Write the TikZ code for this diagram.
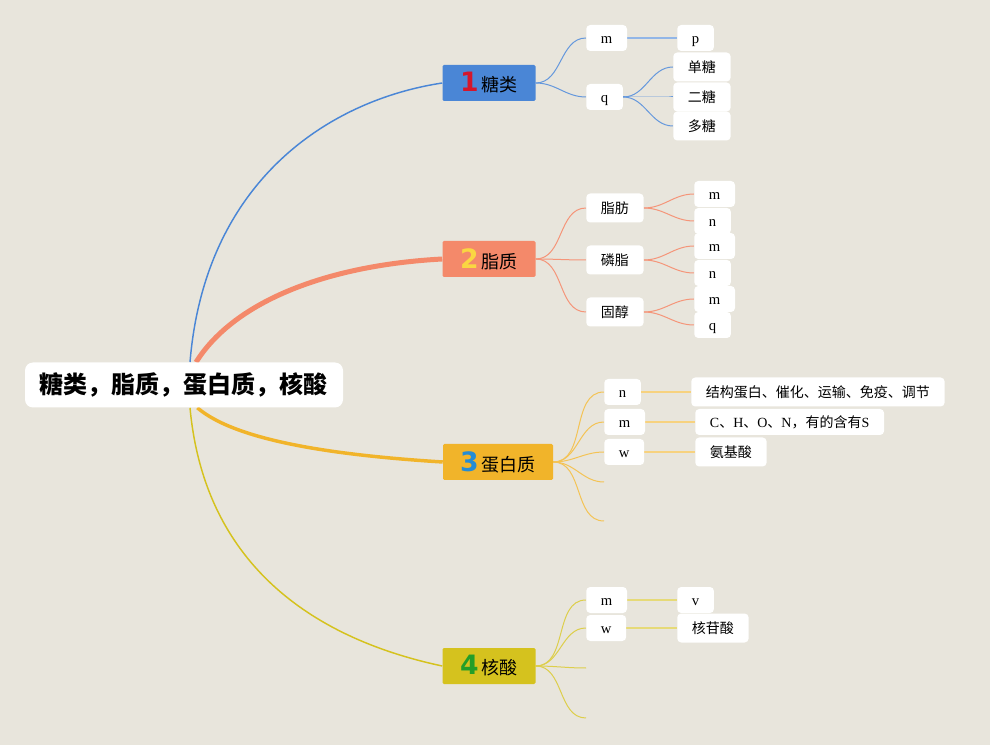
\documentclass[tikz,border=0pt]{standalone}
\usepackage{fontspec}
\setmainfont{Liberation Serif}
\newfontfamily\cjk{Noto Sans CJK SC}
\newfontfamily\numfont{DejaVu Sans}
\usetikzlibrary{positioning, backgrounds}
\definecolor{bgpaper}{RGB}{232,229,220}
\definecolor{tangblue}{RGB}{74,134,214}
\definecolor{zhiorange}{RGB}{244,137,106}
\definecolor{danyellow}{RGB}{241,180,42}
\definecolor{heolive}{RGB}{213,194,30}
\definecolor{numred}{RGB}{212,22,44}
\definecolor{numyellow}{RGB}{250,214,66}
\definecolor{numblue}{RGB}{36,140,212}
\definecolor{numgreen}{RGB}{36,158,40}
\newcommand{\topicnum}[2]{{\numfont\bfseries\fontsize{20}{20}\selectfont\textcolor{#1}{#2}}\,}
\tikzset{
  rootbox/.style={fill=white, rounded corners=6pt, inner sep=0pt,
    minimum width=238.5pt, minimum height=33.75pt,
    font=\cjk\bfseries\fontsize{18}{20}\selectfont},
  topic/.style={rounded corners=1pt, inner sep=0pt,
    minimum width=69.75pt, minimum height=27pt,
    font=\cjk\fontsize{13.5}{15}\selectfont},
  leaf/.style={fill=white, rounded corners=3pt, anchor=west,
    inner xsep=11pt, inner ysep=0pt, minimum height=19.5pt,
    text height=9pt, text depth=1pt,
    font=\fontsize{11}{12}\selectfont},
  leafzh/.style={leaf, minimum height=21.75pt,
    text height=8.8pt, text depth=1.2pt,
    font=\cjk\fontsize{10.5}{12}\selectfont},
  branch/.style={line width=0.75pt},
  link/.style={line width=1.2pt},
}
\begin{document}
\begin{tikzpicture}[x=0.75pt, y=-0.75pt]
\useasboundingbox (0,0) rectangle (990,745);

% 中心主题
\node[rootbox] (root) at (184,385) {糖类，脂质，蛋白质，核酸};

% 一级分支
\node[topic, fill=tangblue] (tang) at (489,83) {\topicnum{numred}{1}糖类};
\node[topic, fill=zhiorange] (zhi) at (489,259) {\topicnum{numyellow}{2}脂质};
\node[topic, fill=danyellow, minimum width=82.5pt] (dbz) at (498,462) {\topicnum{numblue}{3}蛋白质};
\node[topic, fill=heolive] (hes) at (489,666) {\topicnum{numgreen}{4}核酸};

% 糖类
\node[leaf] (tm) at (586,38) {m};
\node[leaf] (tq) at (586,97) {q};
\node[leaf] (tp) at (677,38) {p};
\node[leafzh] (dant) at (673,67) {单糖};
\node[leafzh] (ert) at (673,97) {二糖};
\node[leafzh] (duot) at (673,126) {多糖};

% 脂质
\node[leafzh] (zf) at (586,208) {脂肪};
\node[leafzh] (lz) at (586,260) {磷脂};
\node[leafzh] (gc) at (586,312) {固醇};
\node[leaf] (zfm) at (694,194) {m};
\node[leaf] (zfn) at (694,221) {n};
\node[leaf] (lzm) at (694,246) {m};
\node[leaf] (lzn) at (694,273) {n};
\node[leaf] (gcm) at (694,299) {m};
\node[leaf] (gcq) at (694,325) {q};

% 蛋白质
\node[leaf] (dn) at (604,392) {n};
\node[leaf] (dm) at (604,422) {m};
\node[leaf] (dw) at (604,452) {w};
\coordinate (d4) at (604,482);
\coordinate (d5) at (604,521);
\node[leafzh] (gn) at (691,392) {结构蛋白、催化、运输、免疫、调节};
\node[leaf, font=\fontsize{10.5}{12}\selectfont] (ys) at (695,422)
  {C{\cjk 、}H{\cjk 、}O{\cjk 、}N{\cjk ，有的含有}S};
\node[leafzh] (ajs) at (695,452) {氨基酸};

% 核酸
\node[leaf] (hm) at (586,600) {m};
\node[leaf] (hw) at (586,628) {w};
\coordinate (h3) at (586,668);
\coordinate (h4) at (586,718);
\node[leaf] (hv) at (677,600) {v};
\node[leafzh] (hg) at (677,628) {核苷酸};

\begin{scope}[on background layer]
  % 背景
  \fill[bgpaper] (0,0) rectangle (990,745);

  % 中心到一级分支
  \draw[tangblue, line width=1.1pt] ([xshift=4.5pt]root.north)
    .. controls (205,180) and (330,100) .. (tang.west);
  \draw[zhiorange, line width=3.75pt] ([xshift=9pt]root.north)
    .. controls (235,300) and (330,265) .. (zhi.west);
  \draw[danyellow, line width=2.6pt] ([xshift=10pt]root.south)
    .. controls (235,440) and (330,455) .. (dbz.west);
  \draw[heolive, line width=1.1pt] ([xshift=4.5pt]root.south)
    .. controls (205,570) and (320,640) .. (hes.west);

  % 糖类子节点
  \draw[branch, tangblue!85] (tang.east) to[out=0, in=180] (tm.west);
  \draw[branch, tangblue!85] (tang.east) to[out=0, in=180] (tq.west);
  \draw[link, tangblue!60] (tm.east) -- (tp.west);
  \foreach \leafname in {dant, ert, duot}
    \draw[branch, tangblue!85] (tq.east) to[out=0, in=180] (\leafname.west);

  % 脂质子节点
  \foreach \leafname in {zf, lz, gc}
    \draw[branch, zhiorange!90] (zhi.east) to[out=0, in=180] (\leafname.west);
  \foreach \a/\b in {zf/zfm, zf/zfn, lz/lzm, lz/lzn, gc/gcm, gc/gcq}
    \draw[branch, zhiorange!90] (\a.east) to[out=0, in=180] (\b.west);

  % 蛋白质子节点
  \foreach \leafname in {dn, dm, dw, d4, d5}
    \draw[branch, danyellow!80] (dbz.east) to[out=0, in=180] (\leafname.west);
  \draw[link, danyellow!60] (dn.east) -- (gn.west);
  \draw[link, danyellow!60] (dm.east) -- (ys.west);
  \draw[link, danyellow!60] (dw.east) -- (ajs.west);

  % 核酸子节点
  \foreach \leafname in {hm, hw, h3, h4}
    \draw[branch, heolive!80] (hes.east) to[out=0, in=180] (\leafname.west);
  \draw[link, heolive!60] (hm.east) -- (hv.west);
  \draw[link, heolive!60] (hw.east) -- (hg.west);
\end{scope}
\end{tikzpicture}
\end{document}
